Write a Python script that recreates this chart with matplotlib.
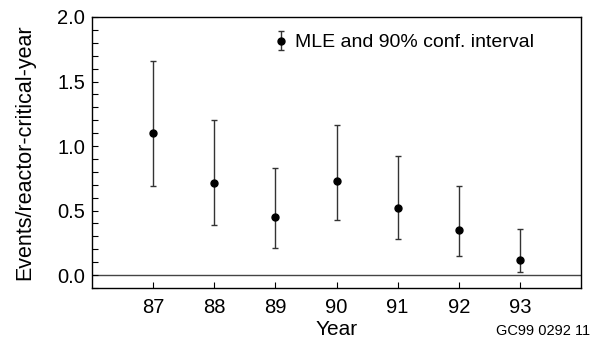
import numpy as np
import matplotlib.pyplot as plt

plt.rcParams['font.family'] = ['Liberation Sans', 'DejaVu Sans']

# Event rate per reactor-critical-year, MLE with 90% confidence bounds
years = [87, 88, 89, 90, 91, 92, 93]
mle = [1.10, 0.71, 0.45, 0.73, 0.52, 0.35, 0.12]
lower = [0.69, 0.39, 0.21, 0.43, 0.28, 0.15, 0.02]
upper = [1.66, 1.20, 0.83, 1.16, 0.92, 0.69, 0.36]

mle = np.array(mle)
yerr = [mle - np.array(lower), np.array(upper) - mle]

fig = plt.figure(figsize=(5.91, 3.40), dpi=100)
ax = fig.add_axes([0.156, 0.153, 0.827, 0.797])

ax.axhline(0, color='#444444', lw=1.0, zorder=1)
ax.errorbar(years, mle, yerr=yerr, fmt='o', color='black', ms=5,
            ecolor='#333333', elinewidth=1.0, capsize=2, capthick=1.0,
            label='MLE and 90% conf. interval', zorder=3)

ax.set_xlim(86, 94)
ax.set_ylim(-0.1, 2.0)
ax.set_xticks(years)
ax.set_yticks([0.0, 0.5, 1.0, 1.5, 2.0])
ax.set_yticks(np.arange(-0.1, 2.0, 0.1), minor=True)
ax.yaxis.set_major_formatter(plt.FormatStrFormatter('%.1f'))
ax.tick_params(direction='in', labelsize=14.5, length=4, width=0.8)
ax.tick_params(which='minor', direction='in', length=4, width=0.8)
ax.tick_params(axis='x', pad=7)
ax.tick_params(axis='y', pad=5)
for s in ax.spines.values():
    s.set_linewidth(1.0)

ax.set_xlabel('Year', fontsize=15, labelpad=2.5)
ax.set_ylabel('Events/reactor-critical-year', fontsize=15.5, labelpad=16)

ax.legend(loc='upper left', frameon=False, fontsize=14, handletextpad=0.3,
          handlelength=0.8, borderaxespad=0.0, bbox_to_anchor=(0.355, 0.967))

fig.text(0.998, 0.005, 'GC99 0292 11', fontsize=10.5, ha='right', va='bottom')

fig.savefig('out.png', dpi=100)
